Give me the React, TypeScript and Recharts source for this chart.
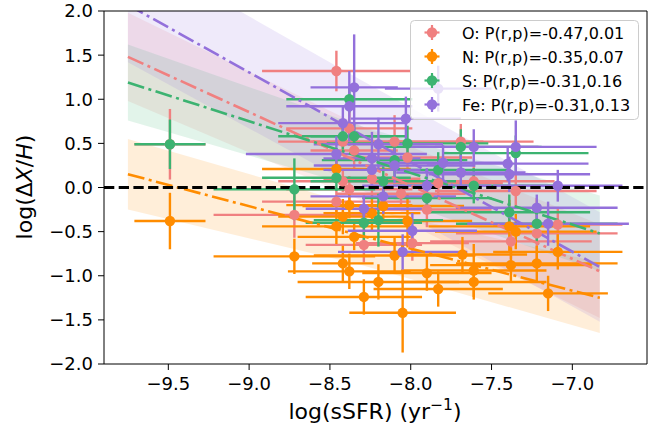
import React from 'react';
import {
  ComposedChart, Scatter, ErrorBar, Area, Line, XAxis, YAxis, ReferenceLine, Legend,
} from 'recharts';

// ---------- colours ----------
const O_COLOR = '#F08080';
const N_COLOR = '#FF8C00';
const S_COLOR = '#3CB371';
const FE_COLOR = '#9370DB';

// ---------- axis ----------
const X_DOMAIN: [number, number] = [-9.898, -6.538];
const Y_DOMAIN: [number, number] = [-2, 2];
const X_TICKS = [-9.5, -9.0, -8.5, -8.0, -7.5, -7.0];
const Y_TICKS = [-2.0, -1.5, -1.0, -0.5, 0.0, 0.5, 1.0, 1.5, 2.0];

// ---------- O ----------
const oSSFR = [-9.49, -8.72, -8.46, -8.46, -8.42, -8.42, -8.38, -8.38, -8.35, -8.29, -8.24, -8.10, -8.06, -8.02, -7.99, -7.90, -7.83, -7.69, -7.61, -7.38, -7.35, -7.22, -7.09];
const oAbund = [0.49, -0.31, 1.32, -0.16, 0.52, 0.07, 0.67, -0.02, 0.42, -0.65, 0.10, 0.52, -0.07, 0.34, -0.63, -0.25, 0.05, 0.52, 0.07, -0.61, -0.04, -0.52, -0.42];
const oErrX = [0.22, 0.50, 0.46, 0.46, 0.40, 0.40, 0.39, 0.39, 0.27, 0.36, 0.30, 0.55, 0.40, 0.40, 0.35, 0.40, 0.40, 0.45, 0.50, 0.50, 0.50, 0.50, 0.40];
const oErrY = [0.40, 0.26, 0.23, 0.15, 0.15, 0.12, 0.20, 0.15, 0.20, 0.20, 0.20, 0.30, 0.15, 0.15, 0.20, 0.20, 0.15, 0.20, 0.20, 0.20, 0.20, 0.40, 0.20];

// ---------- N ----------
const nSSFR = [-9.49, -8.72, -8.46, -8.46, -8.42, -8.42, -8.38, -8.38, -8.35, -8.29, -8.24, -8.20, -8.17, -8.10, -8.05, -8.02, -7.90, -7.83, -7.68, -7.61, -7.61, -7.39, -7.35, -7.38, -7.22, -7.09, -7.15];
const nAbund = [-0.38, -0.78, 0.21, -0.44, -0.33, -0.86, -0.20, -0.95, -0.56, -1.24, -0.29, -1.07, -0.21, -0.77, -1.42, -0.38, -0.97, -1.15, -0.76, -0.94, -1.07, -0.44, -0.50, -0.88, -0.86, -0.73, -1.20];
const nErrX = [0.22, 0.50, 0.46, 0.46, 0.40, 0.19, 0.39, 0.38, 0.35, 0.36, 0.30, 0.50, 0.50, 0.50, 0.33, 0.40, 0.40, 0.40, 0.40, 0.45, 0.45, 0.50, 0.50, 0.50, 0.50, 0.40, 0.37];
const nErrY = [0.32, 0.20, 0.15, 0.20, 0.20, 0.20, 0.15, 0.20, 0.15, 0.20, 0.20, 0.20, 0.20, 0.20, 0.45, 0.30, 0.20, 0.20, 0.20, 0.30, 0.20, 0.30, 0.20, 0.20, 0.20, 0.20, 0.20];

// ---------- S ----------
const sSSFR = [-9.49, -8.72, -8.46, -8.42, -8.38, -8.35, -8.29, -8.20, -8.17, -8.10, -8.02, -7.90, -7.83, -7.69, -7.61, -7.35, -7.39, -7.22];
const sAbund = [0.49, -0.02, 0.11, 0.58, 1.00, 0.58, -0.40, -0.37, 0.07, 0.31, 0.50, -0.12, 0.20, 0.46, 0.02, 0.39, -0.28, -0.41];
const sErrX = [0.22, 0.50, 0.46, 0.40, 0.39, 0.27, 0.36, 0.40, 0.45, 0.45, 0.50, 0.40, 0.45, 0.50, 0.50, 0.45, 0.50, 0.50];
const sErrY = [0.28, 0.35, 0.15, 0.15, 0.15, 0.15, 0.20, 0.30, 0.20, 0.20, 0.20, 0.15, 0.20, 0.20, 0.20, 0.20, 0.20, 0.20];

// ---------- Fe ----------
const feSSFR = [-8.46, -8.42, -8.38, -8.35, -8.29, -8.24, -8.24, -8.20, -8.17, -8.10, -8.05, -8.03, -7.99, -7.90, -7.83, -7.80, -7.69, -7.61, -7.40, -7.39, -7.35, -7.22, -7.15, -7.09];
const feAbund = [0.38, 0.73, 0.92, 1.135, -0.24, 0.33, 0.20, 0.49, -0.10, 0.25, -0.73, 0.78, -0.49, 0.02, 1.12, 0.28, 0.17, 0.46, 0.27, 0.15, 0.46, -0.23, -0.41, 0.02];
const feErrX = [0.56, 0.40, 0.39, 0.27, 0.36, 0.30, 0.30, 0.40, 0.45, 0.50, 0.40, 0.34, 0.40, 0.40, 0.33, 0.40, 0.40, 0.40, 0.50, 0.50, 0.50, 0.50, 0.50, 0.40];
const feErrY = [0.20, 0.20, 0.40, 0.60, 0.15, 0.30, 0.20, 0.30, 0.20, 0.20, 0.20, 0.25, 0.20, 0.20, 0.26, 0.20, 0.20, 0.20, 0.20, 0.20, 0.30, 0.15, 0.25, 0.18];

// ---------- fits and confidence bands ----------
const fitSSFR = [-9.75, -8.3, -6.83];
const oFit = [1.48, 0.27, -0.95];
const oBandLow = [0.98, -0.15, -1.48];
const oBandHigh = [1.98, 0.69, -0.42];
const nFit = [0.15, -0.55, -1.25];
const nBandLow = [-0.25, -0.88, -1.65];
const nBandHigh = [0.55, -0.22, -0.85];
const sFit = [1.19, 0.34, -0.52];
const sBandLow = [0.76, -0.01, -0.95];
const sBandHigh = [1.62, 0.69, -0.09];
const feFit = [2.07, 0.59, -0.90];
const feBandLow = [1.42, -0.03, -1.52];
const feBandHigh = [2.72, 1.21, -0.28];

// ---------- legend ----------
const legendLabels = [
  'O: P(r,p)=-0.47,0.01',
  'N: P(r,p)=-0.35,0.07',
  'S: P(r,p)=-0.31,0.16',
  'Fe: P(r,p)=-0.31,0.13',
];
const legendColors = [O_COLOR, N_COLOR, S_COLOR, FE_COLOR];

const toPoints = (xs: number[], ys: number[], exs: number[], eys: number[]) =>
  xs.map((x, i) => ({ x, y: ys[i], ex: exs[i], ey: eys[i] }));

const oData = toPoints(oSSFR, oAbund, oErrX, oErrY);
const nData = toPoints(nSSFR, nAbund, nErrX, nErrY);
const sData = toPoints(sSSFR, sAbund, sErrX, sErrY);
const feData = toPoints(feSSFR, feAbund, feErrX, feErrY);

const fitTable = fitSSFR.map((x, i) => ({
  x,
  oFit: oFit[i], oBand: [oBandLow[i], oBandHigh[i]],
  nFit: nFit[i], nBand: [nBandLow[i], nBandHigh[i]],
  sFit: sFit[i], sBand: [sBandLow[i], sBandHigh[i]],
  feFit: feFit[i], feBand: [feBandLow[i], feBandHigh[i]],
}));

const FONT = '"DejaVu Sans", sans-serif';
const fmt = (v: number) => v.toFixed(1).replace('-', '\u2212');

const dot = (color: string) => (props: any) => (
  <circle cx={props.cx} cy={props.cy} r={5.2} fill={color} stroke="none" />
);

const LegendBox = () => (
  <svg width={229} height={100} style={{ display: 'block' }}>
    <rect x={0.5} y={0.5} width={228} height={99} rx={4} ry={4}
      fill="#ffffff" fillOpacity={0.8} stroke="#cccccc" strokeWidth={1} />
    {legendLabels.map((label, i) => {
      const cy = 12.5 + i * 24;
      const c = legendColors[i];
      return (
        <g key={label}>
          <line x1={14.5} x2={29.5} y1={cy} y2={cy} stroke={c} strokeWidth={2.2} />
          <line x1={22} x2={22} y1={cy - 7.5} y2={cy + 7.5} stroke={c} strokeWidth={2.2} />
          <circle cx={22} cy={cy} r={5.2} fill={c} />
          <text x={52} y={cy + 6} fontFamily={FONT} fontSize={16} fill="#000">{label}</text>
        </g>
      );
    })}
  </svg>
);

const YLabel = () => (
  <text x={32} y={187} transform="rotate(-90, 32, 187)" textAnchor="middle"
    fontFamily={FONT} fontSize={22} fill="#000">
    {'log(\u0394'}<tspan fontStyle="italic">X</tspan>/<tspan fontStyle="italic">H</tspan>)
  </text>
);

const XLabel = () => (
  <text x={375} y={419} textAnchor="middle" fontFamily={FONT} fontSize={22} fill="#000">
    log(sSFR) (yr<tspan fontSize={15.5} dy={-9}>{'\u22121'}</tspan><tspan dy={9}>)</tspan>
  </text>
);

const dashDot = '17 4.5 3 4.5';
const EBW = 2.4;

export default function App() {
  return (
    <div style={{ position: 'absolute', left: 0, top: 0, width: 671, height: 433, background: '#fff' }}>
      <ComposedChart width={671} height={433} data={fitTable}
        margin={{ top: 11, right: 24, left: 0, bottom: 0 }}>
        <XAxis dataKey="x" type="number" domain={X_DOMAIN} ticks={X_TICKS} allowDataOverflow
          height={69} tickFormatter={fmt} tickSize={6} tickMargin={7}
          axisLine={{ stroke: '#000', strokeWidth: 1 }} tickLine={{ stroke: '#000', strokeWidth: 1 }}
          tick={{ fontFamily: FONT, fontSize: 18, fill: '#000' }}
          label={{ content: () => <XLabel /> }} />
        <YAxis type="number" domain={Y_DOMAIN} ticks={Y_TICKS} allowDataOverflow
          width={104} tickFormatter={fmt} tickSize={6} tickMargin={5}
          axisLine={{ stroke: '#000', strokeWidth: 1 }} tickLine={{ stroke: '#000', strokeWidth: 1 }}
          tick={{ fontFamily: FONT, fontSize: 18, fill: '#000' }}
          label={{ content: () => <YLabel /> }} />

        <Area dataKey="oBand" type="linear" stroke="none" fill={O_COLOR} fillOpacity={0.15} isAnimationActive={false} />
        <Area dataKey="nBand" type="linear" stroke="none" fill={N_COLOR} fillOpacity={0.15} isAnimationActive={false} />
        <Area dataKey="sBand" type="linear" stroke="none" fill={S_COLOR} fillOpacity={0.15} isAnimationActive={false} />
        <Area dataKey="feBand" type="linear" stroke="none" fill={FE_COLOR} fillOpacity={0.15} isAnimationActive={false} />

        <Scatter data={oData} dataKey="y" name="O" fill={O_COLOR} shape={dot(O_COLOR)} isAnimationActive={false}>
          <ErrorBar dataKey="ex" direction="x" width={0} stroke={O_COLOR} strokeWidth={EBW} />
          <ErrorBar dataKey="ey" direction="y" width={0} stroke={O_COLOR} strokeWidth={EBW} />
        </Scatter>
        <Scatter data={nData} dataKey="y" name="N" fill={N_COLOR} shape={dot(N_COLOR)} isAnimationActive={false}>
          <ErrorBar dataKey="ex" direction="x" width={0} stroke={N_COLOR} strokeWidth={EBW} />
          <ErrorBar dataKey="ey" direction="y" width={0} stroke={N_COLOR} strokeWidth={EBW} />
        </Scatter>
        <Scatter data={sData} dataKey="y" name="S" fill={S_COLOR} shape={dot(S_COLOR)} isAnimationActive={false}>
          <ErrorBar dataKey="ex" direction="x" width={0} stroke={S_COLOR} strokeWidth={EBW} />
          <ErrorBar dataKey="ey" direction="y" width={0} stroke={S_COLOR} strokeWidth={EBW} />
        </Scatter>
        <Scatter data={feData} dataKey="y" name="Fe" fill={FE_COLOR} shape={dot(FE_COLOR)} isAnimationActive={false}>
          <ErrorBar dataKey="ex" direction="x" width={0} stroke={FE_COLOR} strokeWidth={EBW} />
          <ErrorBar dataKey="ey" direction="y" width={0} stroke={FE_COLOR} strokeWidth={EBW} />
        </Scatter>

        <Line dataKey="oFit" type="linear" stroke={O_COLOR} strokeWidth={2.6} strokeDasharray={dashDot} dot={false} activeDot={false} isAnimationActive={false} />
        <Line dataKey="nFit" type="linear" stroke={N_COLOR} strokeWidth={2.6} strokeDasharray={dashDot} dot={false} activeDot={false} isAnimationActive={false} />
        <Line dataKey="sFit" type="linear" stroke={S_COLOR} strokeWidth={2.6} strokeDasharray={dashDot} dot={false} activeDot={false} isAnimationActive={false} />
        <Line dataKey="feFit" type="linear" stroke={FE_COLOR} strokeWidth={2.6} strokeDasharray={dashDot} dot={false} activeDot={false} isAnimationActive={false} />

        <ReferenceLine y={0} stroke="#000" strokeWidth={2.8} strokeDasharray="10.3 4.4" />
        <ReferenceLine y={2} stroke="#000" strokeWidth={1} />
        <ReferenceLine x={X_DOMAIN[1]} stroke="#000" strokeWidth={1} />

        <Legend verticalAlign="middle" align="center" layout="vertical"
          content={() => <LegendBox />}
          wrapperStyle={{ position: 'absolute', left: 410, top: 20, width: 229, height: 100, margin: 0, padding: 0 }} />
      </ComposedChart>
    </div>
  );
}
